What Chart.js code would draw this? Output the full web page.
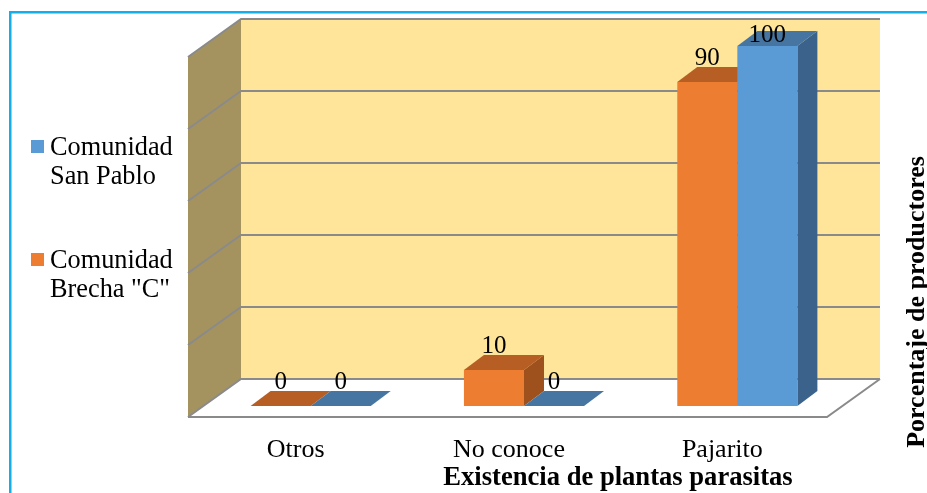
<!DOCTYPE html>
<html>
<head>
<meta charset="utf-8">
<title>Existencia de plantas parasitas</title>
<script src="https://cdn.jsdelivr.net/npm/chart.js@4.4.1/dist/chart.umd.min.js"></script>
<style>
  html, body { margin: 0; padding: 0; background: #fff; overflow: hidden; }
  canvas { display: block; }
</style>
</head>
<body>
<canvas id="chart" width="927" height="493"></canvas>
<script>
// ---- data ----
const categories = ['Otros', 'No conoce', 'Pajarito'];
const brechaC = [0, 10, 90];      // Comunidad Brecha "C" (%)
const sanPablo = [0, 0, 100];     // Comunidad San Pablo (%)
const seriesLines = [['Comunidad', 'Brecha "C"'], ['Comunidad', 'San Pablo']];
const yMax = 100;
const yStep = 20;
const xTitle = 'Existencia de plantas parasitas';
const yTitle = 'Porcentaje de productores';

// ---- look ----
const SERIF = "'Times New Roman', 'Liberation Serif', serif";
const FLOOR = { dx: -16, dy: 11 };  // front edge of the floor, relative to the bar plane
const WALL = { dx: 37, dy: -27 };   // back wall, relative to the bar plane
const DEPTH = { dx: 20, dy: -15 };  // depth of every bar
const fronts = ['#ED7D31', '#5B9BD5'];
const faces = [
  { top: '#B65E23', side: '#9E511C' },
  { top: '#4675A2', side: '#3A628A' }
];

function poly(ctx, pts) {
  ctx.beginPath();
  ctx.moveTo(pts[0][0], pts[0][1]);
  for (let i = 1; i < pts.length; i++) ctx.lineTo(pts[i][0], pts[i][1]);
  ctx.closePath();
  ctx.fill();
}

const scene3d = {
  id: 'scene3d',
  beforeDraw(chart) {
    const ctx = chart.ctx;
    const { left, right, top, bottom } = chart.chartArea;
    const ys = chart.scales.y;
    ctx.save();
    ctx.fillStyle = '#fff';
    ctx.fillRect(0, 0, chart.width, chart.height);

    // outer frame
    ctx.strokeStyle = '#12AFEC';
    ctx.lineWidth = 2.5;
    ctx.strokeRect(10.25, 12.25, 960, 520);

    // back wall
    ctx.fillStyle = '#FEE59A';
    ctx.fillRect(left + WALL.dx, top + WALL.dy, right - left - 1, bottom - top);

    // side wall
    ctx.fillStyle = '#A5935F';
    poly(ctx, [
      [left + FLOOR.dx, top + FLOOR.dy],
      [left + WALL.dx, top + WALL.dy],
      [left + WALL.dx, bottom + WALL.dy],
      [left + FLOOR.dx, bottom + FLOOR.dy]
    ]);

    // floor
    ctx.fillStyle = '#fff';
    poly(ctx, [
      [left + FLOOR.dx, bottom + FLOOR.dy],
      [right + FLOOR.dx - 1, bottom + FLOOR.dy],
      [right + WALL.dx - 1, bottom + WALL.dy],
      [left + WALL.dx, bottom + WALL.dy]
    ]);

    // gridlines across side wall and back wall
    ctx.strokeStyle = '#8A8A8A';
    ctx.lineWidth = 2;
    for (let v = 0; v <= yMax; v += yStep) {
      const py = ys.getPixelForValue(v);
      ctx.beginPath();
      ctx.moveTo(left + FLOOR.dx, py + FLOOR.dy);
      ctx.lineTo(left + WALL.dx, py + WALL.dy);
      ctx.lineTo(right + WALL.dx - 1, py + WALL.dy);
      ctx.stroke();
    }
    // floor outline
    ctx.beginPath();
    ctx.moveTo(left + FLOOR.dx, bottom + FLOOR.dy);
    ctx.lineTo(right + FLOOR.dx - 1, bottom + FLOOR.dy);
    ctx.lineTo(right + WALL.dx - 1, bottom + WALL.dy);
    ctx.stroke();
    ctx.restore();
  },

  // top and side faces of the bars, under the front faces
  beforeDatasetsDraw(chart) {
    const ctx = chart.ctx;
    ctx.save();
    chart.data.datasets.forEach((ds, i) => {
      chart.getDatasetMeta(i).data.forEach(bar => {
        const { x, y, base, width } = bar.getProps(['x', 'y', 'base', 'width'], true);
        const l = x - width / 2, r = x + width / 2;
        ctx.fillStyle = faces[i].side;
        poly(ctx, [[r, y], [r + DEPTH.dx, y + DEPTH.dy], [r + DEPTH.dx, base + DEPTH.dy], [r, base]]);
        ctx.fillStyle = faces[i].top;
        poly(ctx, [[l, y], [l + DEPTH.dx, y + DEPTH.dy], [r + DEPTH.dx, y + DEPTH.dy], [r, y]]);
      });
    });
    ctx.restore();
  },

  // value labels
  afterDatasetsDraw(chart) {
    const ctx = chart.ctx;
    const top = chart.chartArea.top;
    ctx.save();
    ctx.font = '25px ' + SERIF;
    ctx.fillStyle = '#000';
    ctx.textAlign = 'center';
    ctx.textBaseline = 'alphabetic';
    chart.data.datasets.forEach((ds, i) => {
      chart.getDatasetMeta(i).data.forEach((bar, j) => {
        const { x, y } = bar.getProps(['x', 'y'], true);
        const ly = Math.max(y + DEPTH.dy - 2, top - 4);
        ctx.fillText(String(ds.data[j]), x, ly);
      });
    });
    ctx.restore();
  },

  // category labels, axis titles and legend
  afterDraw(chart) {
    const ctx = chart.ctx;
    const xs = chart.scales.x;
    ctx.save();
    ctx.fillStyle = '#000';
    ctx.textBaseline = 'alphabetic';

    ctx.font = '26px ' + SERIF;
    ctx.textAlign = 'center';
    categories.forEach((c, i) => {
      ctx.fillText(c, xs.getPixelForValue(i) + FLOOR.dx + 1, 457);
    });

    ctx.font = 'bold 26.6px ' + SERIF;
    ctx.fillText(xTitle, 618, 485);

    ctx.font = 'bold 26px ' + SERIF;
    ctx.save();
    ctx.translate(924, 302);
    ctx.rotate(-Math.PI / 2);
    ctx.fillText(yTitle, 0, 0);
    ctx.restore();

    // legend, last series first
    ctx.font = '26.3px ' + SERIF;
    ctx.textAlign = 'left';
    const order = chart.data.datasets.map((d, i) => i).reverse();
    order.forEach((i, k) => {
      const base = 155 + k * 113;
      ctx.fillStyle = fronts[i];
      ctx.fillRect(31, base - 15, 13, 13);
      ctx.fillStyle = '#000';
      seriesLines[i].forEach((line, n) => ctx.fillText(line, 50, base + n * 29));
    });
    ctx.restore();
  }
};

new Chart(document.getElementById('chart'), {
  type: 'bar',
  data: {
    labels: categories,
    datasets: [
      { label: seriesLines[0].join(' '), data: brechaC, backgroundColor: fronts[0], borderWidth: 0 },
      { label: seriesLines[1].join(' '), data: sanPablo, backgroundColor: fronts[1], borderWidth: 0 }
    ]
  },
  options: {
    responsive: false,
    animation: false,
    devicePixelRatio: 1,
    layout: { padding: { left: 204, right: 83, top: 46, bottom: 87 } },
    datasets: { bar: { categoryPercentage: 0.563, barPercentage: 1 } },
    scales: {
      x: { display: false },
      y: { display: false, min: 0, max: yMax, ticks: { stepSize: yStep } }
    },
    plugins: { legend: { display: false }, tooltip: { enabled: false } }
  },
  plugins: [scene3d]
});
</script>
</body>
</html>
